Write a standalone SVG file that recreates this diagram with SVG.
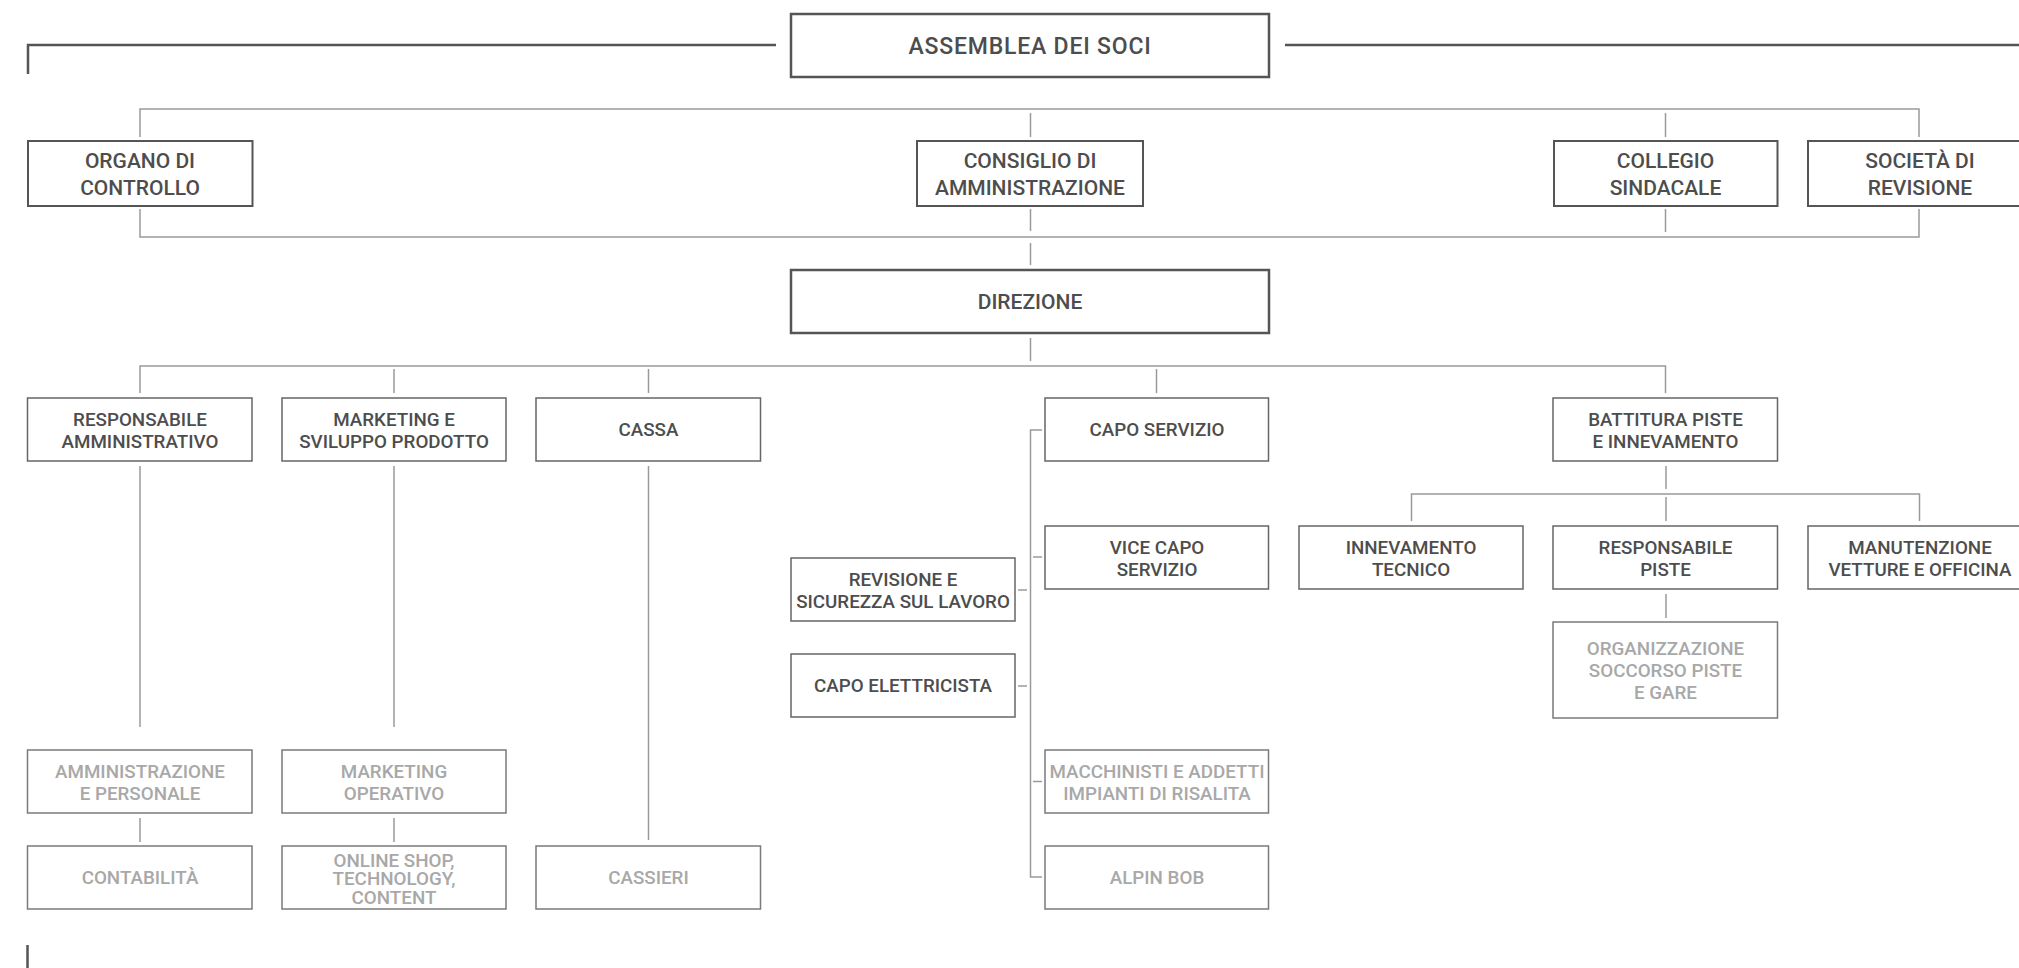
<svg xmlns="http://www.w3.org/2000/svg" width="2019" height="968" viewBox="0 0 2019 968">
<style>
  text { font-family: Roboto, "Liberation Sans", sans-serif; text-anchor: middle; font-weight: 500; }
  .t1 { font-size: 23px; letter-spacing: 0.8px; fill: #4d4d4d; }
  .t2 { font-size: 21px; fill: #4d4d4d; }
  .t3 { font-size: 18.8px; fill: #4d4d4d; }
  .t3l { font-size: 18.8px; fill: #a8a8a8; }
  .b1 { fill: #fff; stroke: #555; stroke-width: 2.5; }
  .b2 { fill: #fff; stroke: #555; stroke-width: 2; }
  .b3 { fill: #fff; stroke: #666; stroke-width: 1.5; }
  .b3l { fill: #fff; stroke: #7a7a7a; stroke-width: 1.5; }
  .c { fill: none; stroke: #9a9a9a; stroke-width: 1.5; }
  .cd { fill: none; stroke: #555; stroke-width: 2.5; }
</style>
<rect width="2019" height="968" fill="#fff"/>
<g id="connectors">
  <path class="cd" d="M28 74 V45 H776"/>
  <path class="cd" d="M1285 45 H2019"/>
  <path class="cd" d="M27.5 945 V968"/>
  <path class="c" d="M140 137 V109 H1919 V137"/>
  <path class="c" d="M1030.5 113 V137 M1665.5 113 V137"/>
  <path class="c" d="M140 209 V237 H1919 V209"/>
  <path class="c" d="M1030.5 209 V231 M1665.5 209 V232 M1030.5 243 V265 M1030.5 338 V361"/>
  <path class="c" d="M140 393 V366 H1665.5 V393"/>
  <path class="c" d="M394 369 V393 M648.5 369 V393 M1156.5 369 V393"/>
  <path class="c" d="M140 466 V727 M394 466 V727 M648.5 466 V840"/>
  <path class="c" d="M140 818 V842 M394 818 V842"/>
  <path class="c" d="M1042 430 H1030.5 V877 H1042"/>
  <path class="c" d="M1033 557 H1042 M1033 781.5 H1042 M1018 590 H1027 M1018 686 H1027"/>
  <path class="c" d="M1666 466 V489 M1411.5 521 V494 H1919.5 V521 M1666 497 V521 M1666 594 V618"/>
</g>
<g id="assemblea"><rect class="b1" x="791" y="14" width="478" height="63"/><text class="t1" x="1030" y="54">ASSEMBLEA DEI SOCI</text></g>
<g id="organo"><rect class="b2" x="28" y="141" width="224.5" height="65"/><text class="t2" x="140" y="167.5">ORGANO DI</text><text class="t2" x="140" y="194.5">CONTROLLO</text></g>
<g id="consiglio"><rect class="b2" x="917" y="141" width="226" height="65"/><text class="t2" x="1030" y="167.5">CONSIGLIO DI</text><text class="t2" x="1030" y="194.5">AMMINISTRAZIONE</text></g>
<g id="collegio"><rect class="b2" x="1554" y="141" width="223.5" height="65"/><text class="t2" x="1665.5" y="167.5">COLLEGIO</text><text class="t2" x="1665.5" y="194.5">SINDACALE</text></g>
<g id="societa"><rect class="b2" x="1808" y="141" width="226" height="65"/><text class="t2" x="1920" y="167.5">SOCIETÀ DI</text><text class="t2" x="1920" y="194.5">REVISIONE</text></g>
<g id="direzione"><rect class="b1" x="791" y="270" width="478" height="63"/><text class="t2" x="1030" y="309">DIREZIONE</text></g>
<g id="resp-amm"><rect class="b3" x="27.5" y="398" width="224.5" height="63"/><text class="t3" x="140" y="426">RESPONSABILE</text><text class="t3" x="140" y="448">AMMINISTRATIVO</text></g>
<g id="marketing"><rect class="b3" x="282" y="398" width="224" height="63"/><text class="t3" x="394" y="426">MARKETING E</text><text class="t3" x="394" y="448">SVILUPPO PRODOTTO</text></g>
<g id="cassa"><rect class="b3" x="536" y="398" width="224.5" height="63"/><text class="t3" x="648.5" y="436">CASSA</text></g>
<g id="capo-servizio"><rect class="b3" x="1045" y="398" width="223.5" height="63"/><text class="t3" x="1157" y="436">CAPO SERVIZIO</text></g>
<g id="battitura"><rect class="b3" x="1553" y="398" width="224.5" height="63"/><text class="t3" x="1665.5" y="426">BATTITURA PISTE</text><text class="t3" x="1665.5" y="448">E INNEVAMENTO</text></g>
<g id="vice-capo"><rect class="b3" x="1045" y="526" width="223.5" height="63"/><text class="t3" x="1157" y="554">VICE CAPO</text><text class="t3" x="1157" y="576">SERVIZIO</text></g>
<g id="revisione"><rect class="b3" x="791" y="558" width="224" height="63"/><text class="t3" x="903" y="586">REVISIONE E</text><text class="t3" x="903" y="608">SICUREZZA SUL LAVORO</text></g>
<g id="capo-elettricista"><rect class="b3" x="791" y="654" width="224" height="63"/><text class="t3" x="903" y="692">CAPO ELETTRICISTA</text></g>
<g id="macchinisti"><rect class="b3l" x="1045" y="750" width="223.5" height="63"/><text class="t3l" x="1157" y="778">MACCHINISTI E ADDETTI</text><text class="t3l" x="1157" y="800">IMPIANTI DI RISALITA</text></g>
<g id="alpin-bob"><rect class="b3l" x="1045" y="846" width="223.5" height="63"/><text class="t3l" x="1157" y="884">ALPIN BOB</text></g>
<g id="innevamento"><rect class="b3" x="1299" y="526" width="224" height="63"/><text class="t3" x="1411" y="554">INNEVAMENTO</text><text class="t3" x="1411" y="576">TECNICO</text></g>
<g id="resp-piste"><rect class="b3" x="1553" y="526" width="224.5" height="63"/><text class="t3" x="1665.5" y="554">RESPONSABILE</text><text class="t3" x="1665.5" y="576">PISTE</text></g>
<g id="manutenzione"><rect class="b3" x="1808" y="526" width="226" height="63"/><text class="t3" x="1920" y="554">MANUTENZIONE</text><text class="t3" x="1920" y="576">VETTURE E OFFICINA</text></g>
<g id="organizzazione"><rect class="b3l" x="1553" y="622" width="224.5" height="96"/><text class="t3l" x="1665.5" y="655">ORGANIZZAZIONE</text><text class="t3l" x="1665.5" y="677">SOCCORSO PISTE</text><text class="t3l" x="1665.5" y="699">E GARE</text></g>
<g id="amm-personale"><rect class="b3l" x="27.5" y="750" width="224.5" height="63"/><text class="t3l" x="140" y="778">AMMINISTRAZIONE</text><text class="t3l" x="140" y="800">E PERSONALE</text></g>
<g id="marketing-operativo"><rect class="b3l" x="282" y="750" width="224" height="63"/><text class="t3l" x="394" y="778">MARKETING</text><text class="t3l" x="394" y="800">OPERATIVO</text></g>
<g id="contabilita"><rect class="b3l" x="27.5" y="846" width="224.5" height="63"/><text class="t3l" x="140" y="884">CONTABILITÀ</text></g>
<g id="online-shop"><rect class="b3l" x="282" y="846" width="224" height="63"/><text class="t3l" x="394" y="866.5">ONLINE SHOP,</text><text class="t3l" x="394" y="885">TECHNOLOGY,</text><text class="t3l" x="394" y="903.5">CONTENT</text></g>
<g id="cassieri"><rect class="b3l" x="536" y="846" width="224.5" height="63"/><text class="t3l" x="648.5" y="884">CASSIERI</text></g>
</svg>
